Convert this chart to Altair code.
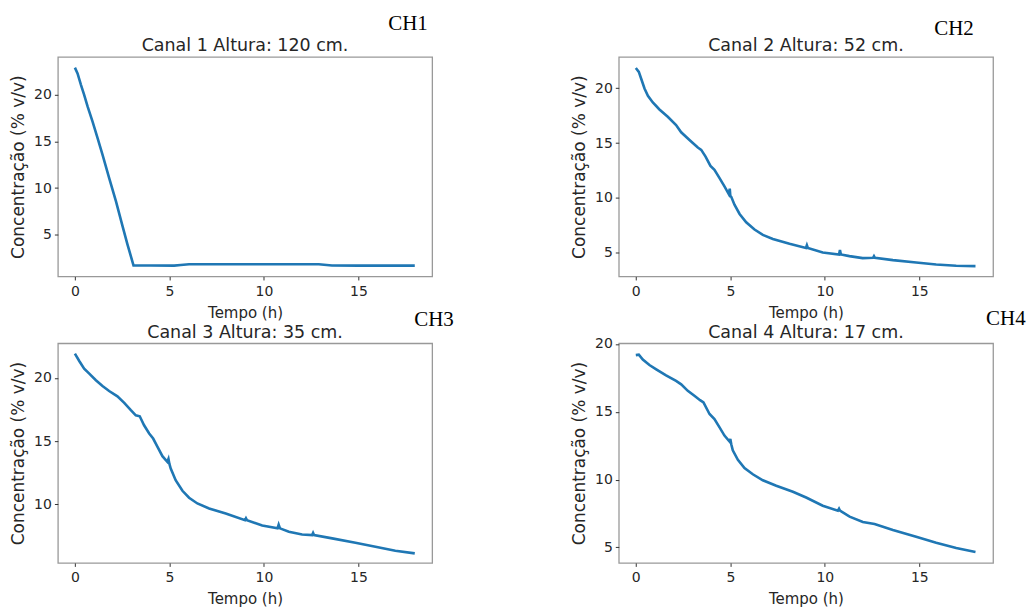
import altair as alt
import pandas as pd

FONT = "DejaVu Sans"
TEXT = "#262626"
BLUE = "#1f77b4"

# Channel 1 — 120 cm
t1 = [0, 0.14, 0.32, 0.49, 0.67, 0.93, 1.2, 1.46, 1.81, 2.17, 2.52, 2.78, 3.1,
      4.0, 5.25, 5.6, 6.04, 8.0, 9.9, 11.5, 12.9, 13.6, 15.0, 16.5, 17.98]
c1 = [22.92, 22.3, 21.07, 20.0, 18.76, 17.16, 15.37, 13.59, 11.09, 8.6, 5.93, 3.97, 1.72,
      1.70, 1.69, 1.76, 1.83, 1.84, 1.83, 1.84, 1.83, 1.70, 1.69, 1.69, 1.69]

# Channel 2 — 52 cm
t2 = [0, 0.16, 0.28, 0.46, 0.64, 0.90, 1.25, 1.69, 2.13, 2.40, 2.84, 3.28, 3.46, 3.69,
      3.95, 4.16, 4.43, 4.69, 4.92, 4.97, 5.0, 5.05, 5.22, 5.49, 5.84, 6.28, 6.72, 7.25,
      8.13, 9.0, 9.05, 9.1, 9.89, 10.75, 10.8, 10.85, 11.3, 12.0, 12.55, 12.6, 12.65,
      13.6, 14.83, 15.89, 16.95, 17.97]
c2 = [21.84, 21.48, 20.88, 19.97, 19.30, 18.70, 18.06, 17.40, 16.64, 15.98, 15.28, 14.59,
      14.38, 13.77, 12.92, 12.56, 11.81, 11.05, 10.35, 10.85, 10.2, 10.1, 9.39, 8.54, 7.78,
      7.12, 6.63, 6.27, 5.82, 5.45, 5.7, 5.45, 5.03, 4.85, 5.25, 4.85, 4.70, 4.52, 4.55,
      4.7, 4.55, 4.34, 4.12, 3.94, 3.82, 3.79]

# Channel 3 — 35 cm
t3 = [0, 0.23, 0.49, 0.76, 1.11, 1.46, 1.81, 2.25, 2.61, 2.96, 3.22, 3.43, 3.66, 3.93,
      4.14, 4.37, 4.63, 4.89, 4.95, 5.0, 5.07, 5.33, 5.69, 6.04, 6.48, 7.1, 7.98, 9.0,
      9.05, 9.1, 9.91, 10.72, 10.78, 10.85, 11.32, 12.02, 12.55, 12.6, 12.65, 13.61,
      14.84, 15.9, 16.95, 17.98]
c3 = [21.92, 21.34, 20.74, 20.34, 19.82, 19.37, 18.97, 18.55, 18.03, 17.45, 17.05, 16.97,
      16.26, 15.61, 15.21, 14.55, 13.82, 13.37, 13.6, 13.2, 12.84, 11.92, 11.08, 10.53,
      10.08, 9.68, 9.29, 8.76, 8.9, 8.76, 8.34, 8.11, 8.4, 8.11, 7.84, 7.63, 7.58, 7.75,
      7.58, 7.32, 6.97, 6.66, 6.34, 6.13]

# Channel 4 — 17 cm
t4 = [0, 0.16, 0.37, 0.72, 1.08, 1.6, 2.13, 2.4, 2.75, 3.1, 3.4, 3.58, 3.9, 4.16, 4.43,
      4.69, 4.96, 5.0, 5.05, 5.13, 5.4, 5.75, 6.19, 6.72, 7.43, 8.31, 9.01, 9.89, 10.69,
      10.75, 10.8, 11.31, 12.01, 12.63, 13.6, 14.83, 15.89, 16.95, 17.97]
c4 = [19.17, 19.2, 18.85, 18.44, 18.12, 17.68, 17.27, 17.02, 16.54, 16.17, 15.85, 15.68,
      14.83, 14.46, 13.85, 13.24, 12.80, 13.0, 12.6, 12.15, 11.46, 10.85, 10.39, 9.95,
      9.54, 9.10, 8.68, 8.07, 7.71, 7.85, 7.71, 7.27, 6.88, 6.73, 6.29, 5.78, 5.34, 4.95,
      4.66]

titles = ["Canal 1 Altura: 120 cm.", "Canal 2 Altura: 52 cm.",
          "Canal 3 Altura: 35 cm.", "Canal 4 Altura: 17 cm."]
tags = ["CH1", "CH2", "CH3", "CH4"]
x_ticks = [0, 5, 10, 15]
y_ticks = [[5, 10, 15, 20], [5, 10, 15, 20], [10, 15, 20], [5, 10, 15, 20]]
x_domain = [-0.9, 18.9]
y_domains = [[0.53, 24.07], [2.85, 22.85], [5.38, 22.74], [3.86, 20.04]]
tag_xy = [(331, -43.6), (316, -38.6), (357, -34.3), (368, -34.9)]

W, H = 375, 220
series = [(t1, c1), (t2, c2), (t3, c3), (t4, c4)]


def panel(i):
    t, c = series[i]
    df = pd.DataFrame({"Tempo": t, "Conc": c})
    line = alt.Chart(df).mark_line(color=BLUE, strokeWidth=2.6).encode(
        x=alt.X("Tempo:Q",
                scale=alt.Scale(domain=x_domain, nice=False, zero=False),
                axis=alt.Axis(values=x_ticks, title="Tempo (h)")),
        y=alt.Y("Conc:Q",
                scale=alt.Scale(domain=y_domains[i], nice=False, zero=False),
                axis=alt.Axis(values=y_ticks[i], title="Concentração (% v/v)")),
    )
    # panel heading, centred above the frame
    head = alt.Chart(pd.DataFrame({"title": [titles[i]]})).mark_text(
        font=FONT, fontSize=17.5, align="center", baseline="alphabetic", color=TEXT,
    ).encode(x=alt.value(W / 2), y=alt.value(-5.5), text="title:N")
    # channel tag in the upper right corner
    tag = alt.Chart(pd.DataFrame({"tag": [tags[i]]})).mark_text(
        font="Liberation Serif", fontSize=21, align="left",
        baseline="top", color="black",
    ).encode(x=alt.value(tag_xy[i][0]), y=alt.value(tag_xy[i][1]), text="tag:N")
    return alt.layer(line, head, tag).properties(width=W, height=H)


chart = alt.concat(
    *[panel(i) for i in range(4)],
    columns=2,
    spacing={"row": 67, "column": 187},
    bounds="flush",
).properties(
    padding={"left": 9, "top": 11.4, "right": 2, "bottom": 0},
    background="white",
).configure_view(
    stroke="#999999", strokeWidth=1.3
).configure_axis(
    grid=False, domain=False,
    tickSize=3.5, tickColor="#333333", tickWidth=1,
    labelFont=FONT, labelFontSize=14, labelColor=TEXT, labelPadding=3,
    titleFont=FONT, titleFontWeight="normal", titleColor=TEXT,
    titlePadding=6,
).configure_axisX(
    titleFontSize=15, labelPadding=4.5, titlePadding=7
).configure_axisY(
    titleFontSize=17
)

chart.save("out.html", embed_options={"renderer": "svg", "actions": False})
